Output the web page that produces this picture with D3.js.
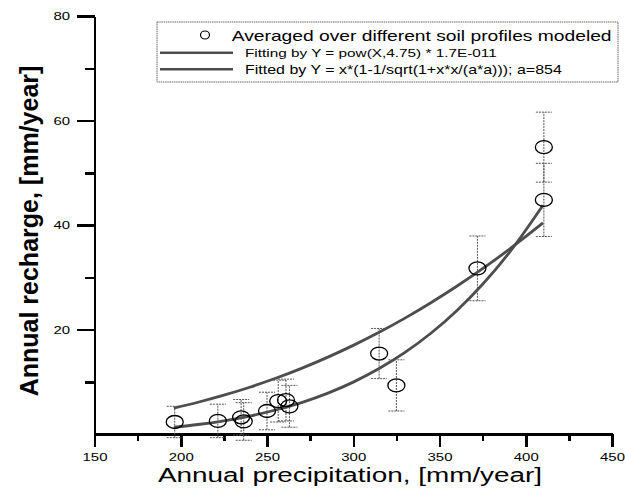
<!DOCTYPE html>
<html>
<head>
<meta charset="utf-8">
<title>Annual recharge</title>
<script src="https://cdn.jsdelivr.net/npm/d3@7"></script>
<style>
  body { margin: 0; background: #fff; }
  svg { display: block; font-family: "Liberation Sans", Arial, sans-serif; }
  .axis text { fill: #000; font-size: 11.5px; font-family: "Liberation Sans", Arial, sans-serif; }
</style>
</head>
<body>
<svg width="625" height="493"></svg>
<script>
// ticks
var xTicks = [150, 200, 250, 300, 350, 400, 450];
var xMinor = [175, 225, 275, 325, 375, 425];
var yTicks = [20, 40, 60, 80];
var yMinor = [10, 30, 50, 70];

// averaged points + error half-widths
var precip   = [196.5, 221.5, 235, 236.5, 250, 256.5, 261, 263, 315, 325, 372, 410.5, 410.5];
var recharge = [2.3, 2.5, 3.2, 2.4, 4.4, 6.3, 6.5, 5.3, 15.4, 9.3, 31.7, 54.9, 44.8];
var errs     = [3.0, 3.2, 3.4, 3.6, 3.6, 4.0, 4.0, 4.0, 4.8, 4.9, 6.2, 6.7, 7.0];

// fitted curves, sampled
var fitX    = [196, 210, 225, 240, 255, 270, 285, 300, 315, 330, 345, 360, 375, 390, 410];
var fitPow  = [1.31, 1.82, 2.53, 3.44, 4.59, 6.02, 7.78, 9.93, 12.52, 15.61, 19.28, 23.60, 28.65, 34.52, 43.78];
var fitSqrt = [4.97, 6.08, 7.43, 8.95, 10.66, 12.56, 14.66, 16.96, 19.46, 22.18, 25.12, 28.27, 31.64, 35.24, 40.39];

var legendLabels = [
  "Averaged over different soil profiles modeled",
  "Fitting by Y = pow(X,4.75) * 1.7E-011",
  "Fitted by Y = x*(1-1/sqrt(1+x*x/(a*a))); a=854"
];

var SX = 1.3;   // picture is stretched sideways
var curveColor = "#4d4d4d";

var svg = d3.select("svg");
var x = d3.scaleLinear().domain([150, 450]).range([94.5, 612]);
var y = d3.scaleLinear().domain([0, 80]).range([434, 16]);

function blackAxis(g) {
  g.selectAll("line, path")
      .attr("stroke", "#000")
      .attr("stroke-width", 2.5)
      .attr("shape-rendering", "crispEdges");
}

// x axis
svg.append("g").attr("class", "axis")
    .attr("transform", "translate(0," + y(0) + ")")
    .call(d3.axisBottom(x).tickValues(xMinor).tickSize(7).tickSizeOuter(0).tickFormat(""))
    .call(blackAxis);
var gx = svg.append("g").attr("class", "axis")
    .attr("transform", "translate(0," + y(0) + ")")
    .call(d3.axisBottom(x).tickValues(xTicks).tickSize(13).tickPadding(6).tickSizeOuter(0))
    .call(blackAxis);
gx.selectAll("text").attr("transform", "scale(" + SX + ",1)");

// y axis
svg.append("g").attr("class", "axis")
    .attr("transform", "translate(" + x(150) + ",0)")
    .call(d3.axisLeft(y).tickValues(yMinor).tickSize(10).tickSizeOuter(0).tickFormat(""))
    .call(blackAxis);
var gy = svg.append("g").attr("class", "axis")
    .attr("transform", "translate(" + x(150) + ",0)")
    .call(d3.axisLeft(y).tickValues(yTicks).tickSize(18).tickSizeOuter(0))
    .call(blackAxis);
gy.selectAll("text").attr("x", -24.5 / SX).attr("transform", "scale(" + SX + ",1)");

// axis titles
svg.append("text")
    .attr("transform", "translate(350,482) scale(1.43,1)")
    .attr("text-anchor", "middle")
    .style("font-size", "19.5px")
    .text("Annual precipitation, [mm/year]");
svg.append("text")
    .attr("transform", "translate(38,231) rotate(-90)")
    .attr("text-anchor", "middle")
    .style("font-size", "25px")
    .style("font-weight", "bold")
    .text("Annual recharge, [mm/year]");

// fitted curves
var line = d3.line().curve(d3.curveMonotoneX);
[fitPow, fitSqrt].forEach(function(vals) {
  svg.append("path")
      .attr("d", line(fitX.map(function(v, i) { return [x(v), y(vals[i])]; })))
      .attr("fill", "none")
      .attr("stroke", curveColor)
      .attr("stroke-width", 2.8);
});

// error bars
var pts = precip.map(function(p, i) { return {x: p, y: recharge[i], e: errs[i]}; });
var eb = svg.append("g")
    .attr("stroke", "#555")
    .attr("stroke-width", 1)
    .attr("stroke-dasharray", "2,1");
pts.forEach(function(d) {
  eb.append("line").attr("x1", x(d.x)).attr("x2", x(d.x))
      .attr("y1", y(d.y - d.e)).attr("y2", y(d.y + d.e));
  [d.y - d.e, d.y + d.e].forEach(function(v) {
    eb.append("line").attr("x1", x(d.x) - 8).attr("x2", x(d.x) + 8)
        .attr("y1", y(v)).attr("y2", y(v));
  });
});

// points
svg.append("g").selectAll("ellipse").data(pts).enter()
    .append("ellipse")
    .attr("cx", function(d) { return x(d.x); })
    .attr("cy", function(d) { return y(d.y); })
    .attr("rx", 8.5).attr("ry", 6.5)
    .attr("fill", "none")
    .attr("stroke", "#000")
    .attr("stroke-width", 1.3);

// legend
var lg = svg.append("g");
lg.append("rect")
    .attr("x", 157).attr("y", 22).attr("width", 461).attr("height", 60)
    .attr("fill", "none").attr("stroke", "#666").attr("stroke-width", 1)
    .attr("stroke-dasharray", "1.5,0.7");
lg.append("ellipse").attr("cx", 205).attr("cy", 35).attr("rx", 4.5).attr("ry", 4)
    .attr("fill", "none").attr("stroke", "#000").attr("stroke-width", 1.2);
[52.7, 69.3].forEach(function(ly) {
  lg.append("line").attr("x1", 160).attr("x2", 233).attr("y1", ly).attr("y2", ly)
      .attr("stroke", curveColor).attr("stroke-width", 2.6);
});
var legPos = [[231.7, 40.5, 14.8], [245, 57, 11.8], [245, 73.7, 12.3]];
legendLabels.forEach(function(t, i) {
  lg.append("text")
      .attr("transform", "translate(" + legPos[i][0] + "," + legPos[i][1] + ") scale(" + SX + ",1)")
      .style("font-size", legPos[i][2] + "px")
      .text(t);
});
</script>
</body>
</html>
